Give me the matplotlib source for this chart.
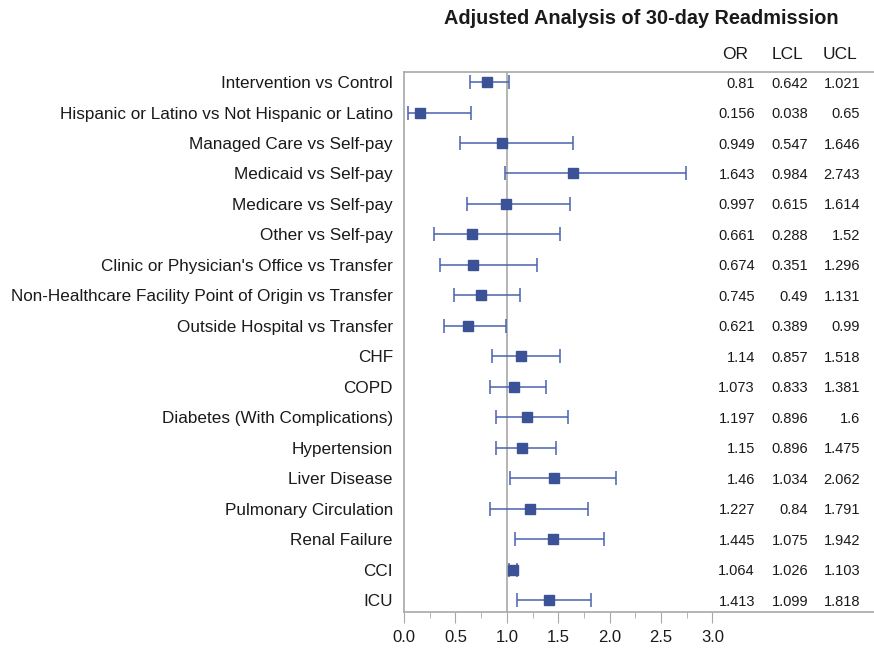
import matplotlib
matplotlib.use("Agg")
import matplotlib.pyplot as plt
import numpy as np

# ---------- data ----------
labels = [
    "Intervention vs Control",
    "Hispanic or Latino vs Not Hispanic or Latino",
    "Managed Care vs Self-pay",
    "Medicaid vs Self-pay",
    "Medicare vs Self-pay",
    "Other vs Self-pay",
    "Clinic or Physician's Office vs Transfer",
    "Non-Healthcare Facility Point of Origin vs Transfer",
    "Outside Hospital vs Transfer",
    "CHF",
    "COPD",
    "Diabetes (With Complications)",
    "Hypertension",
    "Liver Disease",
    "Pulmonary Circulation",
    "Renal Failure",
    "CCI",
    "ICU",
]
odds = [0.81, 0.156, 0.949, 1.643, 0.997, 0.661, 0.674, 0.745, 0.621,
        1.14, 1.073, 1.197, 1.15, 1.46, 1.227, 1.445, 1.064, 1.413]
lcl = [0.642, 0.038, 0.547, 0.984, 0.615, 0.288, 0.351, 0.49, 0.389,
       0.857, 0.833, 0.896, 0.896, 1.034, 0.84, 1.075, 1.026, 1.099]
ucl = [1.021, 0.65, 1.646, 2.743, 1.614, 1.52, 1.296, 1.131, 0.99,
       1.518, 1.381, 1.6, 1.475, 2.062, 1.791, 1.942, 1.103, 1.818]
or_txt = ["0.81", "0.156", "0.949", "1.643", "0.997", "0.661", "0.674", "0.745", "0.621",
          "1.14", "1.073", "1.197", "1.15", "1.46", "1.227", "1.445", "1.064", "1.413"]
lcl_txt = ["0.642", "0.038", "0.547", "0.984", "0.615", "0.288", "0.351", "0.49", "0.389",
           "0.857", "0.833", "0.896", "0.896", "1.034", "0.84", "1.075", "1.026", "1.099"]
ucl_txt = ["1.021", "0.65", "1.646", "2.743", "1.614", "1.52", "1.296", "1.131", "0.99",
           "1.518", "1.381", "1.6", "1.475", "2.062", "1.791", "1.942", "1.103", "1.818"]

plt.rcParams["font.family"] = ["Liberation Sans", "DejaVu Sans"]
txt_color = "#1a1a1a"
grey = "#a8a8a8"
blue = "#3b5296"
line_blue = "#4a62b0"

fig = plt.figure(figsize=(8.74, 6.5), dpi=100)
ax = fig.add_axes([404 / 874, 1 - 612 / 650, 1 - 404 / 874, (612 - 72) / 650])

y = np.arange(len(labels))
odds = np.array(odds)
err = [odds - np.array(lcl), np.array(ucl) - odds]

ax.axvline(1.0, color=grey, lw=1.2, zorder=1)
ax.errorbar(odds, y, xerr=err, fmt="none", ecolor=line_blue, elinewidth=1.1,
            capsize=5, capthick=1.1, zorder=2)
ax.plot(odds, y, "s", color=blue, markersize=7, zorder=3)

ax.set_xlim(0, (874 - 404) / 102.8)
ax.set_ylim(17.39, -0.33)

ax.set_yticks(y)
ax.set_yticklabels(labels, fontsize=12.3, color=txt_color)
ax.tick_params(axis="y", length=0, pad=8)

ax.set_xticks([0, 0.5, 1.0, 1.5, 2.0, 2.5, 3.0])
ax.set_xticklabels(["0.0", "0.5", "1.0", "1.5", "2.0", "2.5", "3.0"], fontsize=12, color=txt_color)
ax.set_xticks(np.arange(0.25, 3.0, 0.5), minor=True)
ax.tick_params(axis="x", which="major", length=8, color=grey, pad=5)
ax.tick_params(axis="x", which="minor", length=4, color=grey)

for side in ["left", "top", "bottom"]:
    ax.spines[side].set_color(grey)
    ax.spines[side].set_linewidth(1.2)
ax.spines["right"].set_visible(False)

# table columns
col_right = [3.414, 3.93, 4.436]
col_head = [3.22, 3.735, 4.24]
for xr, xh, head, vals in zip(col_right, col_head, ["OR", "LCL", "UCL"], [or_txt, lcl_txt, ucl_txt]):
    ax.text(xh, -0.95, head, ha="center", va="center_baseline", fontsize=12.5, color=txt_color)
    for yi, v in zip(y, vals):
        ax.text(xr, yi, v, ha="right", va="center_baseline", fontsize=10.5, color=txt_color)

fig.text(641 / 874, 1 - 18 / 650, "Adjusted Analysis of 30-day Readmission",
         ha="center", va="center", fontsize=14.3, fontweight="bold", color=txt_color)

fig.savefig("out.png", dpi=100)
